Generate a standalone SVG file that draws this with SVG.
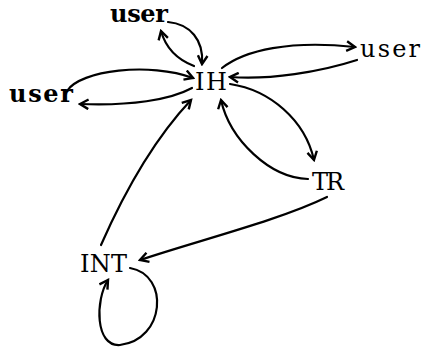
<svg xmlns="http://www.w3.org/2000/svg" width="422" height="347" viewBox="0 0 422 347">
<style>
.lbl{font-family:"DejaVu Serif","Liberation Serif",serif;font-size:24px;fill:#000}
.b{font-weight:bold}
.c{fill:none;stroke:#000;stroke-width:2.2;stroke-linecap:round;marker-end:url(#ah)}
</style>
<defs>
<marker id="ah" markerUnits="userSpaceOnUse" markerWidth="12" markerHeight="12" refX="8" refY="5" orient="auto" viewBox="0 0 10 10">
<path d="M1,1 L8,5 L1,9" fill="none" stroke="#000" stroke-width="2"/>
</marker>
</defs>
<rect width="422" height="347" fill="#fff"/>
<g id="connectors">
<path class="c" d="M168,22 C190,24 204,40 202,64"/>
<path class="c" d="M194,66 Q168,56 161,31"/>
<path class="c" d="M67,91 C80,70 150,62 193,78"/>
<path class="c" d="M192,88 C170,100 130,106 80,104"/>
<path class="c" d="M222,68 C245,50 290,40 355,47"/>
<path class="c" d="M357,60 C320,72 270,80 230,77"/>
<path class="c" d="M230,84 C270,90 305,120 314,160"/>
<path class="c" d="M308,179 C270,178 230,140 221,100"/>
<path class="c" d="M101,245 Q142,152 191,100"/>
<path class="c" d="M327,197 C280,220 200,240 140,260"/>
<path class="c" d="M130,268 C170,275 165,340 120,345 C95,347 95,300 108,280"/>
</g>
<g id="user-top"><text class="lbl b" x="110" y="22" textLength="58" lengthAdjust="spacing">user</text></g>
<g id="user-left"><text class="lbl b" x="9" y="102" textLength="64" lengthAdjust="spacing">user</text></g>
<g id="user-right"><text class="lbl" x="360" y="57" textLength="60" lengthAdjust="spacing">user</text></g>
<g id="IH"><text class="lbl" x="195" y="90" textLength="32" lengthAdjust="spacing">IH</text></g>
<g id="TR"><text class="lbl" x="312" y="190" textLength="32" lengthAdjust="spacing">TR</text></g>
<g id="INT"><text class="lbl" x="80" y="272" textLength="47" lengthAdjust="spacing">INT</text></g>
</svg>
